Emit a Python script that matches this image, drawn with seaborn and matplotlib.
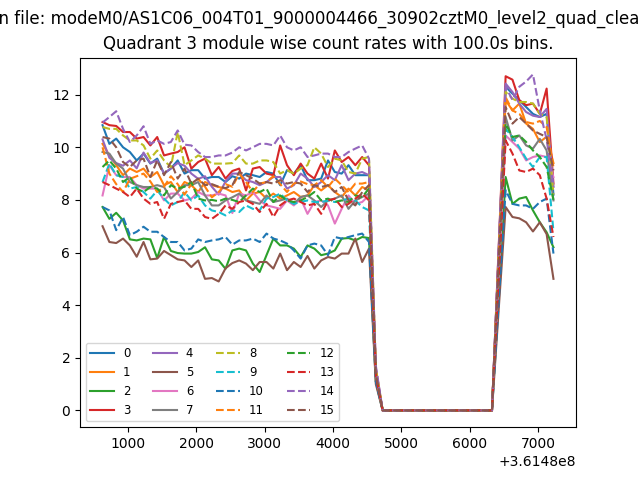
import numpy as np
import pandas as pd
import seaborn as sns
from matplotlib import pyplot as plt

# bin times (100 s bins), offset shown by matplotlib as +3.6148e8
T0 = 361480628.0
BIN = 100.0
NBINS = 67
times = T0 + BIN * np.arange(NBINS)

SUPTITLE = "Data in file: modeM0/AS1C06_004T01_9000004466_30902cztM0_level2_quad_clean.evt"
TITLE = "Quadrant 3 module wise count rates with 100.0s bins."

# count rates per module (counts/s)
m0 = [10.84, 10.13, 10.33, 10.0, 9.82, 9.5, 9.76, 9.38, 9.57, 9.0, 9.19, 9.5, 9.0, 9.13, 9.13, 8.81, 8.87, 8.87, 8.68, 8.9,
      8.81, 9.0, 8.94, 8.87, 9.06, 9.0, 8.56, 9.13, 9.0, 9.32, 8.75, 8.75, 8.81, 9.5, 9.06, 9.0, 9.32, 8.94, 8.94, 8.94,
      1.5, 0, 0, 0, 0, 0, 0, 0, 0, 0, 0, 0, 0, 0, 0, 0, 0, 0,
      6.1, 12.3, 12.04, 11.79, 11.53, 11.27, 11.15, 11.27, 8.2]
m1 = [10.13, 9.69, 9.32, 8.94, 9.19, 9.06, 9.19, 8.87, 9.06, 8.56, 8.68, 8.3, 8.68, 8.56, 8.3, 8.68, 8.56, 8.49, 8.43, 8.3,
      8.36, 7.98, 8.24, 8.3, 8.05, 8.24, 8.05, 8.17, 8.3, 8.11, 8.17, 8.56, 8.36, 8.56, 8.3, 8.11, 8.43, 8.17, 8.49, 8.36,
      1.4, 0, 0, 0, 0, 0, 0, 0, 0, 0, 0, 0, 0, 0, 0, 0, 0, 0,
      5.9, 11.79, 11.4, 11.66, 10.9, 10.7, 10.2, 10.4, 9.4]
m2 = [7.73, 7.28, 7.51, 7.22, 6.5, 6.46, 6.53, 6.5, 5.79, 6.59, 6.06, 5.98, 5.96, 5.96, 6.02, 6.2, 5.74, 5.7, 5.38, 6.08,
      6.15, 6.08, 5.58, 5.26, 5.9, 6.53, 6.27, 6.27, 6.15, 5.83, 6.27, 6.15, 5.9, 5.96, 6.08, 6.53, 6.55, 6.46, 6.59, 6.55,
      1.1, 0, 0, 0, 0, 0, 0, 0, 0, 0, 0, 0, 0, 0, 0, 0, 0, 0,
      4.4, 8.87, 7.85, 8.05, 8.11, 7.6, 7.15, 6.77, 6.2]
m3 = [10.96, 10.84, 10.81, 10.58, 10.58, 10.33, 10.39, 10.07, 10.39, 9.69, 9.76, 9.82, 10.0, 9.19, 9.44, 9.57, 8.94, 9.25, 8.81, 9.1,
      9.19, 8.36, 9.19, 9.25, 9.0, 8.94, 10.07, 9.32, 8.94, 9.38, 9.0, 8.81, 9.38, 8.81, 9.88, 9.44, 9.63, 9.32, 9.63, 9.32,
      1.6, 0, 0, 0, 0, 0, 0, 0, 0, 0, 0, 0, 0, 0, 0, 0, 0, 0,
      6.3, 12.7, 12.57, 11.79, 11.6, 11.66, 11.27, 12.23, 8.62]
m4 = [10.3, 9.6, 9.4, 9.3, 9.5, 9.2, 9.8, 9.4, 9.5, 9.0, 9.2, 9.4, 9.3, 9.0, 8.8, 8.9, 8.5, 8.2, 8.7, 9.0,
      9.0, 8.75, 8.68, 8.56, 8.68, 8.87, 8.87, 8.43, 8.56, 9.0, 8.81, 8.49, 8.68, 8.94, 8.75, 9.32, 8.75, 9.0, 9.06, 8.94,
      1.5, 0, 0, 0, 0, 0, 0, 0, 0, 0, 0, 0, 0, 0, 0, 0, 0, 0,
      6.2, 12.42, 12.1, 11.66, 11.34, 11.2, 11.15, 11.46, 8.49]
m5 = [7.0, 6.4, 6.36, 6.53, 6.27, 5.84, 6.4, 5.74, 5.77, 6.06, 5.9, 5.74, 5.7, 5.45, 5.7, 5.0, 5.03, 4.9, 5.4, 5.6,
      5.7, 5.58, 5.33, 5.64, 5.64, 5.39, 5.96, 5.33, 5.64, 5.45, 5.87, 5.39, 5.7, 5.83, 5.77, 5.96, 5.96, 6.53, 5.64, 6.15,
      1.0, 0, 0, 0, 0, 0, 0, 0, 0, 0, 0, 0, 0, 0, 0, 0, 0, 0,
      3.9, 7.73, 7.35, 7.3, 7.15, 6.8, 7.15, 6.7, 5.0]
m6 = [8.17, 9.32, 8.94, 8.87, 8.87, 8.56, 8.43, 8.43, 8.43, 7.98, 8.24, 8.24, 7.98, 8.05, 8.3, 8.17, 8.17, 8.24, 8.17, 7.5,
      8.24, 8.17, 8.3, 7.98, 7.79, 7.73, 7.66, 7.98, 7.79, 8.05, 7.47, 7.92, 7.98, 7.79, 7.1, 7.66, 8.17, 7.85, 7.92, 8.17,
      1.4, 0, 0, 0, 0, 0, 0, 0, 0, 0, 0, 0, 0, 0, 0, 0, 0, 0,
      5.2, 10.45, 10.2, 9.95, 9.5, 9.63, 9.69, 9.63, 8.87]
m7 = [9.82, 9.76, 9.38, 9.19, 8.68, 8.56, 8.49, 8.49, 8.56, 8.49, 8.05, 8.3, 8.56, 8.56, 8.68, 8.17, 7.79, 7.79, 7.98, 8.1,
      8.24, 7.98, 7.92, 7.85, 8.17, 7.92, 7.98, 8.05, 7.85, 8.11, 8.17, 7.98, 7.73, 7.98, 8.05, 8.17, 7.66, 7.98, 8.11, 8.24,
      1.4, 0, 0, 0, 0, 0, 0, 0, 0, 0, 0, 0, 0, 0, 0, 0, 0, 0,
      5.6, 11.15, 10.26, 10.45, 10.07, 9.95, 10.32, 9.88, 7.98]
m8 = [10.77, 10.7, 10.7, 10.45, 10.26, 10.26, 10.07, 9.57, 9.88, 9.5, 9.25, 10.58, 9.32, 9.5, 9.69, 9.57, 9.38, 9.38, 9.38, 9.4,
      9.69, 9.38, 9.38, 9.5, 9.5, 9.44, 9.0, 9.13, 9.0, 9.19, 9.32, 10.0, 9.76, 9.25, 9.57, 9.5, 9.06, 9.0, 9.57, 9.63,
      1.6, 0, 0, 0, 0, 0, 0, 0, 0, 0, 0, 0, 0, 0, 0, 0, 0, 0,
      6.0, 12.1, 11.85, 11.72, 11.72, 11.66, 11.27, 11.15, 8.2]
m9 = [8.68, 9.38, 8.94, 8.87, 8.43, 8.49, 8.3, 8.05, 8.36, 8.05, 7.79, 7.92, 8.3, 7.98, 8.17, 7.79, 7.6, 7.54, 7.41, 7.6,
      7.54, 7.79, 7.66, 7.6, 8.05, 8.11, 8.24, 7.98, 7.85, 7.92, 7.98, 7.92, 7.92, 7.98, 7.92, 7.98, 8.05, 7.98, 7.73, 7.6,
      1.3, 0, 0, 0, 0, 0, 0, 0, 0, 0, 0, 0, 0, 0, 0, 0, 0, 0,
      5.3, 10.7, 10.39, 10.0, 9.57, 9.25, 9.63, 9.63, 6.8]
m10 = [7.73, 7.6, 6.85, 7.35, 6.66, 6.79, 6.98, 6.79, 6.79, 6.59, 6.4, 6.4, 6.08, 6.15, 6.5, 6.4, 6.46, 6.5, 6.59, 6.3,
       6.46, 6.46, 6.53, 6.4, 6.72, 6.53, 6.46, 6.34, 6.08, 5.77, 6.27, 6.34, 6.27, 5.9, 6.59, 6.53, 6.59, 6.66, 6.72, 6.4,
       1.1, 0, 0, 0, 0, 0, 0, 0, 0, 0, 0, 0, 0, 0, 0, 0, 0, 0,
       4.2, 8.37, 7.85, 7.79, 7.79, 7.66, 7.92, 8.05, 5.96]
m11 = [10.0, 9.0, 8.6, 8.3, 8.8, 8.9, 9.0, 8.7, 8.3, 8.5, 8.9, 8.6, 8.2, 8.6, 8.8, 8.5, 8.1, 8.3, 8.6, 8.5,
       9.0, 8.68, 8.3, 8.62, 8.68, 8.9, 8.6, 8.3, 8.62, 8.7, 8.6, 8.56, 8.75, 8.49, 8.81, 8.56, 8.3, 8.62, 8.62, 8.68,
       1.5, 0, 0, 0, 0, 0, 0, 0, 0, 0, 0, 0, 0, 0, 0, 0, 0, 0,
       6.0, 11.9, 11.4, 11.27, 10.96, 10.9, 11.0, 10.77, 9.25]
m12 = [9.25, 9.5, 9.19, 8.68, 8.87, 8.43, 8.3, 8.49, 8.43, 8.17, 8.56, 8.43, 8.5, 8.68, 8.05, 7.98, 8.0, 7.95, 8.05, 8.0,
       7.92, 8.17, 8.43, 8.3, 8.43, 7.92, 8.17, 7.98, 7.92, 7.98, 8.11, 8.3, 7.98, 8.05, 7.92, 7.98, 7.92, 8.17, 8.11, 8.43,
       1.4, 0, 0, 0, 0, 0, 0, 0, 0, 0, 0, 0, 0, 0, 0, 0, 0, 0,
       5.4, 10.9, 10.39, 10.45, 10.2, 9.88, 9.63, 9.25, 8.0]
m13 = [8.68, 8.56, 8.43, 8.3, 8.11, 8.43, 8.05, 7.85, 7.92, 7.28, 7.85, 7.92, 7.98, 7.66, 7.66, 7.35, 7.28, 7.47, 7.79, 7.66,
       7.92, 7.98, 7.85, 7.54, 7.85, 7.35, 7.79, 7.98, 8.05, 7.92, 7.79, 7.85, 7.47, 7.98, 8.05, 7.73, 7.85, 8.05, 8.24, 7.98,
       1.3, 0, 0, 0, 0, 0, 0, 0, 0, 0, 0, 0, 0, 0, 0, 0, 0, 0,
       5.1, 10.26, 9.76, 9.12, 9.06, 9.19, 8.94, 8.05, 6.59]
m14 = [10.94, 11.15, 11.37, 10.7, 10.2, 10.45, 10.8, 10.13, 10.26, 10.13, 10.2, 10.64, 10.1, 10.07, 9.82, 9.63, 9.63, 9.69, 9.69, 9.8,
       10.0, 9.88, 10.0, 10.13, 10.13, 10.07, 10.45, 10.0, 9.88, 10.0, 9.63, 9.69, 9.76, 9.76, 9.63, 9.63, 9.82, 9.95, 10.07, 9.57,
       1.7, 0, 0, 0, 0, 0, 0, 0, 0, 0, 0, 0, 0, 0, 0, 0, 0, 0,
       6.2, 12.3, 11.8, 12.3, 12.5, 12.77, 11.4, 10.3, 8.5]
m15 = [10.39, 10.33, 10.0, 9.44, 9.25, 9.5, 9.57, 8.87, 9.5, 8.94, 9.44, 8.81, 9.19, 8.62, 8.81, 8.56, 8.6, 8.5, 8.45, 8.56,
       9.06, 8.94, 8.81, 8.62, 8.68, 8.62, 8.75, 8.62, 8.68, 8.62, 8.3, 8.56, 8.49, 8.56, 8.3, 8.49, 7.98, 7.79, 8.3, 8.56,
       1.4, 0, 0, 0, 0, 0, 0, 0, 0, 0, 0, 0, 0, 0, 0, 0, 0, 0,
       5.8, 11.53, 10.9, 11.15, 10.9, 10.64, 10.51, 10.39, 9.12]

modules = [m0, m1, m2, m3, m4, m5, m6, m7, m8, m9, m10, m11, m12, m13, m14, m15]

colors = plt.rcParams['axes.prop_cycle'].by_key()['color']

fig, ax = plt.subplots(figsize=(6.4, 4.8), dpi=100)
for i, rates in enumerate(modules):
    df = pd.DataFrame({"time": times, "rate": rates})
    sns.lineplot(data=df, x="time", y="rate", ax=ax, label=str(i),
                 color=colors[i % 10], linestyle='-' if i < 8 else '--')

ax.set_xlabel("")
ax.set_ylabel("")
ax.set_title(TITLE)
fig.suptitle(SUPTITLE, x=0.492)
ax.legend(loc='lower left', ncol=4, fontsize='small')

fig.savefig("out.png", dpi=100)
